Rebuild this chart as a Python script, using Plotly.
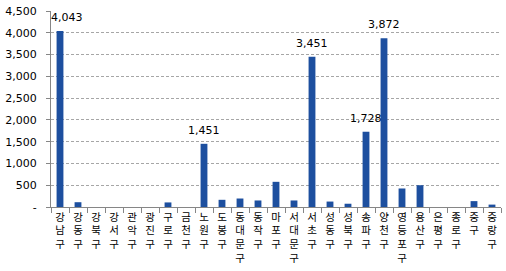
import plotly.graph_objects as go

districts = ["강남구", "강동구", "강북구", "강서구", "관악구", "광진구", "구로구", "금천구",
             "노원구", "도봉구", "동대문구", "동작구", "마포구", "서대문구", "서초구", "성동구",
             "성북구", "송파구", "양천구", "영등포구", "용산구", "은평구", "종로구", "중구", "중랑구"]
values = [4043, 110, 0, 0, 0, 0, 105, 0,
          1451, 165, 195, 150, 578, 150, 3451, 125,
          75, 1728, 3872, 425, 500, 0, 0, 135, 55]
labeled = ["강남구", "노원구", "서초구", "송파구", "양천구"]
y_ticks = [0, 500, 1000, 1500, 2000, 2500, 3000, 3500, 4000, 4500]

tick_text = ["<br>".join(list(d)) for d in districts]
y_text = ["-" if t == 0 else f"{t:,}" for t in y_ticks]

fig = go.Figure()
fig.add_trace(go.Bar(
    x=districts, y=values,
    marker=dict(color="#1d4f9f", line=dict(width=0)),
))
for i, (d, v) in enumerate(zip(districts, values)):
    if d in labeled:
        fig.add_annotation(
            x=d, y=v, text=f"{v:,}", showarrow=False,
            yanchor="bottom", yshift=5, xshift=(7 if i == 0 else 0),
            font=dict(family="DejaVu Sans", size=11, color="#000000"),
        )

fig.update_layout(
    width=506, height=271,
    margin=dict(l=48, r=5, t=10, b=64),
    paper_bgcolor="white", plot_bgcolor="white",
    bargap=0.62, showlegend=False,
)
fig.update_xaxes(
    range=[-0.5, len(districts) - 0.5],
    tickmode="array", tickvals=districts, ticktext=tick_text,
    tickfont=dict(family="Noto Sans CJK KR", size=10.5, color="#000000"),
    showline=True, linecolor="#868686", linewidth=1,
    ticks="outside", ticklen=5, tickcolor="#868686", tickson="boundaries",
    showgrid=False, tickangle=0,
)
fig.update_yaxes(
    range=[0, 4500], tickmode="array", tickvals=y_ticks, ticktext=y_text,
    tickfont=dict(family="DejaVu Sans", size=11, color="#000000"),
    showline=True, linecolor="#868686", linewidth=1,
    ticks="outside", ticklen=4, tickcolor="#868686", ticklabelstandoff=7,
    showgrid=True, gridcolor="#a6a6a6", griddash="3px,2px", gridwidth=1,
    zeroline=False,
)

fig.write_html("out.html")
